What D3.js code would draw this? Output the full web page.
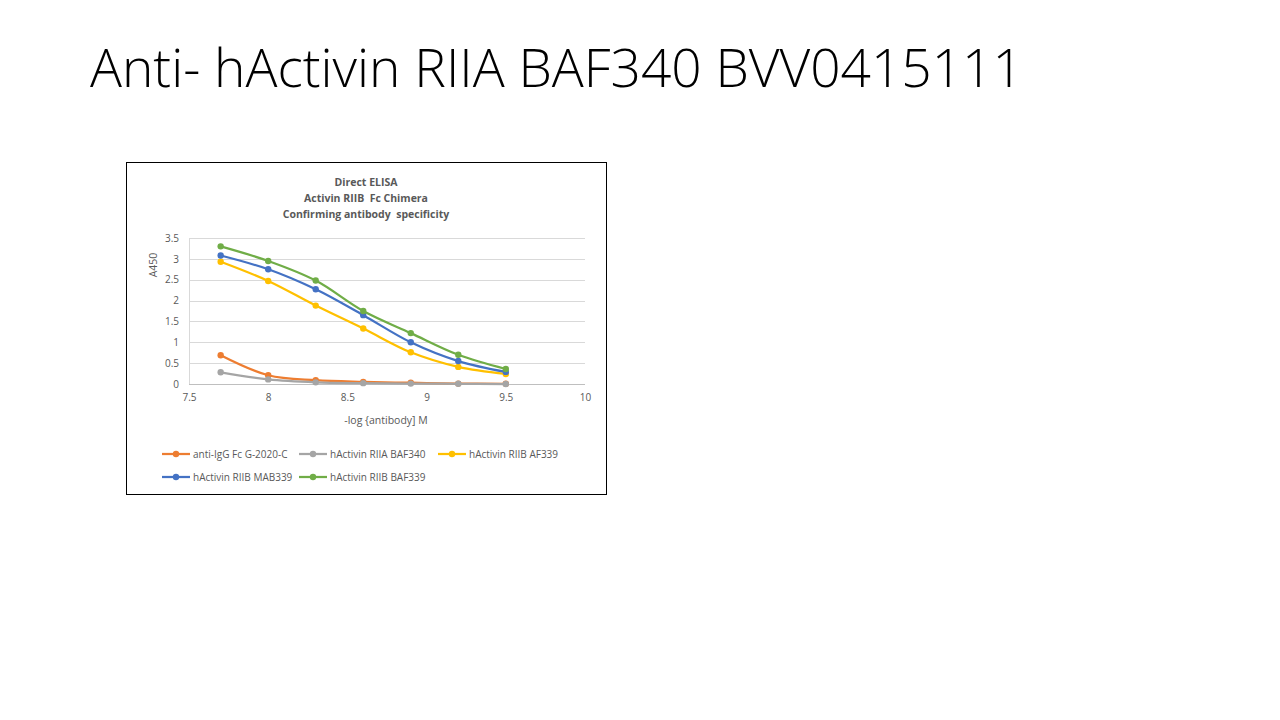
<!DOCTYPE html>
<html>
<head>
<meta charset="utf-8">
<script src="https://cdn.jsdelivr.net/npm/d3@7"></script>
<style>
  body { margin: 0; background: #fff; }
  text { font-family: "Open Sans", "Noto Sans", sans-serif; }
</style>
</head>
<body>
<div id="chart"></div>
<script>
const width = 1280;
const height = 720;

// data
const xValues = [7.7, 8.0, 8.3, 8.6, 8.9, 9.2, 9.5];
const seriesNames = ['anti-IgG Fc G-2020-C', 'hActivin RIIA BAF340', 'hActivin RIIB AF339', 'hActivin RIIB MAB339', 'hActivin RIIB BAF339'];
const seriesColors = ['#ED7D31', '#A5A5A5', '#FFC000', '#4472C4', '#70AD47'];
const antiIgG = [0.69, 0.21, 0.09, 0.05, 0.03, 0.01, 0.005];
const riiaBAF340 = [0.28, 0.11, 0.04, 0.02, 0.01, 0.005, 0.0];
const riibAF339 = [2.93, 2.47, 1.88, 1.33, 0.76, 0.41, 0.24];
const riibMAB339 = [3.08, 2.75, 2.27, 1.65, 1.0, 0.55, 0.29];
const riibBAF339 = [3.30, 2.95, 2.48, 1.75, 1.22, 0.70, 0.36];
const xTicks = [7.5, 8, 8.5, 9, 9.5, 10];
const yTicks = [0, 0.5, 1, 1.5, 2, 2.5, 3, 3.5];
const chartTitle = ['Direct ELISA', 'Activin RIIB  Fc Chimera', 'Confirming antibody  specificity'];

const allSeries = [antiIgG, riiaBAF340, riibAF339, riibMAB339, riibBAF339];

const box = {'left': 126, 'top': 162, 'width': 480, 'height': 332};
const plot = {'left': 189, 'right': 585, 'top': 238, 'bottom': 384};

const svg = d3.select('#chart')
  .append('svg')
  .attr('width', width)
  .attr('height', height);

// slide title, fitted to the reference width
const slideTitle = svg.append('text')
  .attr('x', 90)
  .attr('y', 87)
  .attr('font-size', 56)
  .attr('font-weight', 300)
  .attr('fill', '#000')
  .text('Anti- hActivin RIIA BAF340 BVV0415111');
const tw = slideTitle.node().getComputedTextLength();
slideTitle.attr('font-size', 56 * 933 / tw);

// chart border
svg.append('rect')
  .attr('x', box.left + 0.5)
  .attr('y', box.top + 0.5)
  .attr('width', box.width)
  .attr('height', box.height)
  .attr('fill', '#fff')
  .attr('stroke', '#000')
  .attr('stroke-width', 1);

// chart title
svg.append('g')
  .selectAll('text')
  .data(chartTitle)
  .join('text')
  .attr('x', 366)
  .attr('y', (d, i) => 186 + i * 16)
  .attr('text-anchor', 'middle')
  .attr('font-size', 10.5)
  .attr('font-weight', 'bold')
  .attr('fill', '#595959')
  .style('white-space', 'pre')
  .text(d => d);

const x = d3.scaleLinear().domain([7.5, 10]).range([plot.left, plot.right]);
const y = d3.scaleLinear().domain([0, 3.5]).range([plot.bottom, plot.top]);

// gridlines
svg.append('g')
  .selectAll('line')
  .data(yTicks)
  .join('line')
  .attr('x1', plot.left)
  .attr('x2', plot.right)
  .attr('y1', d => Math.round(y(d)) + 0.5)
  .attr('y2', d => Math.round(y(d)) + 0.5)
  .attr('stroke', d => d === 0 ? '#BFBFBF' : '#D9D9D9')
  .attr('stroke-width', 1);

// y axis line
svg.append('line')
  .attr('x1', plot.left + 0.5)
  .attr('x2', plot.left + 0.5)
  .attr('y1', plot.top)
  .attr('y2', plot.bottom)
  .attr('stroke', '#D9D9D9');

// y axis
const yAxis = svg.append('g')
  .attr('transform', 'translate(' + plot.left + ',0)')
  .call(d3.axisLeft(y).tickValues(yTicks).tickSize(0).tickPadding(10).tickFormat(d3.format('')));
yAxis.select('.domain').remove();
yAxis.selectAll('text').attr('font-size', 10).attr('fill', '#595959').attr('font-family', '"Open Sans", sans-serif');

// x axis
const xAxis = svg.append('g')
  .attr('transform', 'translate(0,' + plot.bottom + ')')
  .call(d3.axisBottom(x).tickValues(xTicks).tickSize(0).tickPadding(10).tickFormat(d3.format('')));
xAxis.select('.domain').remove();
xAxis.selectAll('text').attr('font-size', 10).attr('fill', '#595959').attr('font-family', '"Open Sans", sans-serif');

// axis titles
svg.append('text')
  .attr('transform', 'translate(157,' + 265 + ') rotate(-90)')
  .attr('text-anchor', 'middle')
  .attr('font-size', 10.5)
  .attr('fill', '#595959')
  .text('A450');

svg.append('text')
  .attr('x', 386)
  .attr('y', 424)
  .attr('text-anchor', 'middle')
  .attr('font-size', 10.5)
  .attr('fill', '#595959')
  .text('-log {antibody] M');

// lines and markers
const line = d3.line()
  .x(d => x(d[0]))
  .y(d => y(d[1]))
  .curve(d3.curveCatmullRom.alpha(0.5));

allSeries.forEach((vals, i) => {
  const pts = xValues.map((xv, j) => [xv, vals[j]]);
  const g = svg.append('g');
  g.append('path')
    .datum(pts)
    .attr('fill', 'none')
    .attr('stroke', seriesColors[i])
    .attr('stroke-width', 2.25)
    .attr('d', line);
  g.selectAll('circle')
    .data(pts)
    .join('circle')
    .attr('cx', d => x(d[0]))
    .attr('cy', d => y(d[1]))
    .attr('r', 3.2)
    .attr('fill', seriesColors[i]);
});

// legend
const legendPos = [[162, 454], [299, 454], [438, 454], [162, 477], [299, 477]];
const legend = svg.append('g')
  .selectAll('g')
  .data(seriesNames)
  .join('g')
  .attr('transform', (d, i) => 'translate(' + legendPos[i][0] + ',' + legendPos[i][1] + ')');
legend.append('line')
  .attr('x1', 0).attr('x2', 28)
  .attr('y1', 0).attr('y2', 0)
  .attr('stroke', (d, i) => seriesColors[i])
  .attr('stroke-width', 2.25);
legend.append('circle')
  .attr('cx', 14).attr('cy', 0).attr('r', 3.2)
  .attr('fill', (d, i) => seriesColors[i]);
legend.append('text')
  .attr('x', 31)
  .attr('y', 3.5)
  .attr('font-size', 10)
  .attr('fill', '#595959')
  .text(d => d);
</script>
</body>
</html>
